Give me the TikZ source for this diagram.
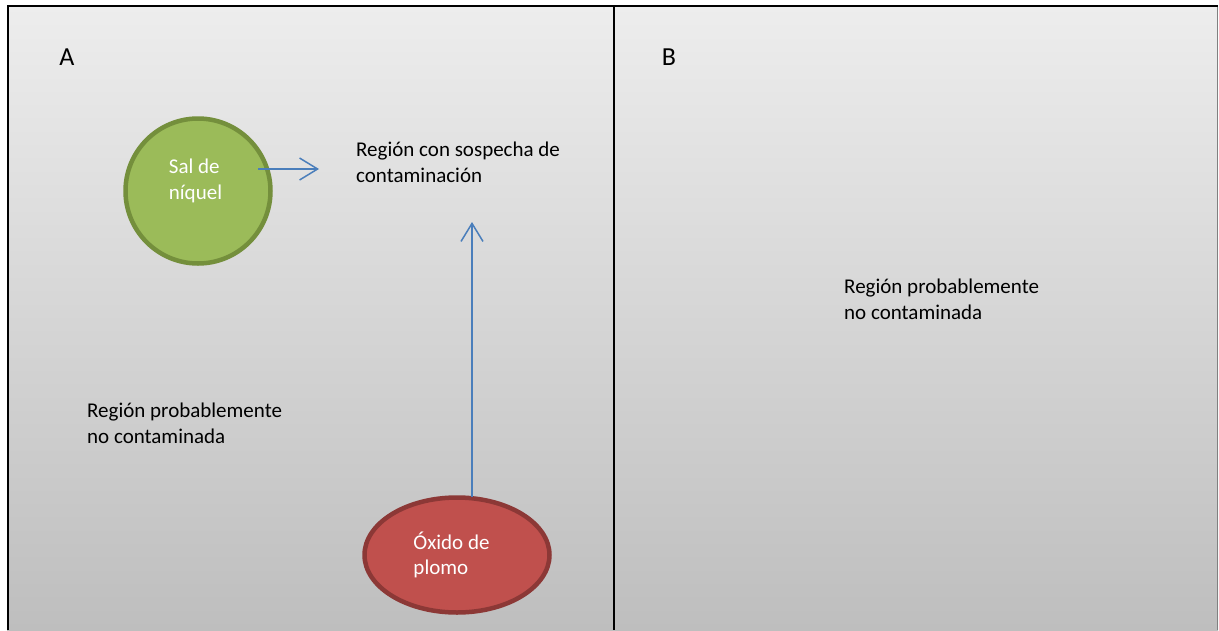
\documentclass[tikz,border=0pt]{standalone}
\usepackage{fontspec}
\setmainfont{Carlito}
\usetikzlibrary{arrows.meta, shapes.geometric, positioning}
\definecolor{bgtop}{RGB}{237,237,237}
\definecolor{bgbot}{RGB}{190,190,190}
\definecolor{nickelfill}{RGB}{155,187,89}
\definecolor{nickeldraw}{RGB}{116,143,60}
\definecolor{leadfill}{RGB}{192,80,77}
\definecolor{leaddraw}{RGB}{140,56,54}
\definecolor{linkblue}{RGB}{74,126,187}

\begin{document}
\begin{tikzpicture}[x=1pt, y=-1pt, font=\fontsize{21}{25.6}\selectfont,
    blob/.style={line width=4.5pt, inner sep=0pt},
    blobtext/.style={text=white, align=left},
    link/.style={draw=linkblue, line width=1.5pt, -{Straight Barb[length=18pt,width=22pt]}},
    note/.style={align=left, anchor=base west, inner sep=0pt},
    panel/.style={font=\fontsize{26}{30}\selectfont}]
    \useasboundingbox (0,0) rectangle (1219,630);
    % background and frame
    \shade[top color=bgtop, bottom color=bgbot] (7,5) rectangle (1218,630);
    \draw[gray, line width=1.5pt] (1217.5,5) -- (1217.5,630);
    \draw[line width=2pt] (7.5,630) -- (7.5,5.5) -- (1218,5.5);
    \draw[line width=2pt] (613.7,5.5) -- (613.7,630);
    % panel letters
    \node[panel] (pa) at (67,57) {A};
    \node[panel] (pb) at (669,57) {B};
    % sources
    \node[blob, circle, draw=nickeldraw, fill=nickelfill, minimum size=145pt,
        label={[blobtext, xshift=-2.5pt, yshift=10pt]center:Sal de\\níquel}] (nickel) at (198,191) {};
    \node[blob, ellipse, draw=leaddraw, fill=leadfill, minimum width=185pt, minimum height=115pt,
        label={[blobtext, xshift=-5.5pt]center:Óxido de\\plomo}] (lead) at (457,555) {};
    % regions (base = last line)
    \node[note] (suspect) at (356,182.5) {Región con sospecha de\\contaminación};
    \node[note] (cleana) at (87,443.5) {Región probablemente\\no contaminada};
    \node[note] (cleanb) at (844,319.5) {Región probablemente\\no contaminada};
    % arrows
    \coordinate (nickelout) at (258,169);
    \coordinate (nickelend) at (319,169);
    \coordinate (leadout) at (472,497);
    \coordinate (leadend) at (472,222);
    \draw[link] (nickelout) -- (nickelend);
    \draw[link] (leadout) -- (leadend);
\end{tikzpicture}
\end{document}
